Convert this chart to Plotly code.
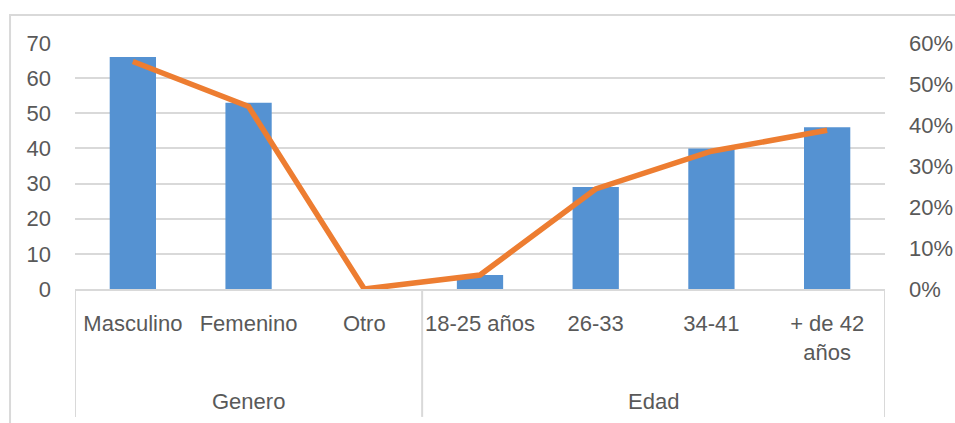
import plotly.graph_objects as go

# Respondent counts and share of each group
categories = ["Masculino", "Femenino", "Otro", "18-25 años", "26-33", "34-41", "+ de 42<br>años"]
groups = ["Genero", "Edad"]
group_sizes = [3, 4]
counts = [66, 53, 0, 4, 29, 40, 46]
shares = [0.555, 0.445, 0.0, 0.034, 0.244, 0.336, 0.387]

left_ticks = [0, 10, 20, 30, 40, 50, 60, 70]
right_ticks = [0, 0.1, 0.2, 0.3, 0.4, 0.5, 0.6]

FONT = "Liberation Sans, Arial, sans-serif"
FS = 22
TEXT = "#595959"
GRID = "#d9d9d9"

fig = go.Figure()
fig.add_trace(go.Bar(
    x=categories, y=counts, width=0.4,
    marker=dict(color="#5592d2", line=dict(width=0)),
    showlegend=False,
))
fig.add_trace(go.Scatter(
    x=categories, y=shares, yaxis="y2", mode="lines",
    line=dict(color="#ed7d31", width=5.5),
    showlegend=False,
))

# group dividers and group titles under the category labels
shapes = []
annotations = []
start = 0
bounds = [-0.5]
for name, size in zip(groups, group_sizes):
    center = start + (size - 1) / 2
    annotations.append(dict(
        x=center, y=-0.456, xref="x", yref="paper", text=name, showarrow=False,
        font=dict(family=FONT, size=FS, color=TEXT), yanchor="middle",
    ))
    start += size
    bounds.append(start - 0.5)
for b in bounds:
    shapes.append(dict(type="line", xref="x", yref="paper", x0=b, x1=b, y0=0, y1=-0.52,
                       line=dict(color=GRID, width=2)))

# outer chart frame
shapes.append(dict(type="rect", xref="paper", yref="paper", x0=-0.0802, x1=1.2,
                   y0=-0.7, y1=1.114, line=dict(color=GRID, width=2), layer="below"))

fig.update_layout(
    width=955, height=423,
    margin=dict(l=75, r=70, t=43, b=134),
    paper_bgcolor="white", plot_bgcolor="white",
    font=dict(family=FONT, size=FS, color=TEXT),
    shapes=shapes,
    annotations=annotations,
    xaxis=dict(
        type="category", showgrid=False, showline=True, linecolor=GRID, linewidth=2,
        ticks="", tickangle=0, ticklabelstandoff=14, automargin=False,
        tickfont=dict(family=FONT, size=FS, color=TEXT),
        range=[-0.5, 6.5],
    ),
    yaxis=dict(
        range=[0, 70], tickvals=left_ticks, showgrid=True, gridcolor=GRID, gridwidth=2,
        zeroline=False, showline=False, ticks="", ticklabelstandoff=23, automargin=False,
        tickfont=dict(family=FONT, size=FS, color=TEXT),
    ),
    yaxis2=dict(
        range=[0, 0.6], tickvals=right_ticks, tickformat=".0%", overlaying="y", side="right",
        showgrid=False, zeroline=False, showline=False, ticks="", ticklabelstandoff=23,
        automargin=False, tickfont=dict(family=FONT, size=FS, color=TEXT),
    ),
)

fig.write_html("out.html")
